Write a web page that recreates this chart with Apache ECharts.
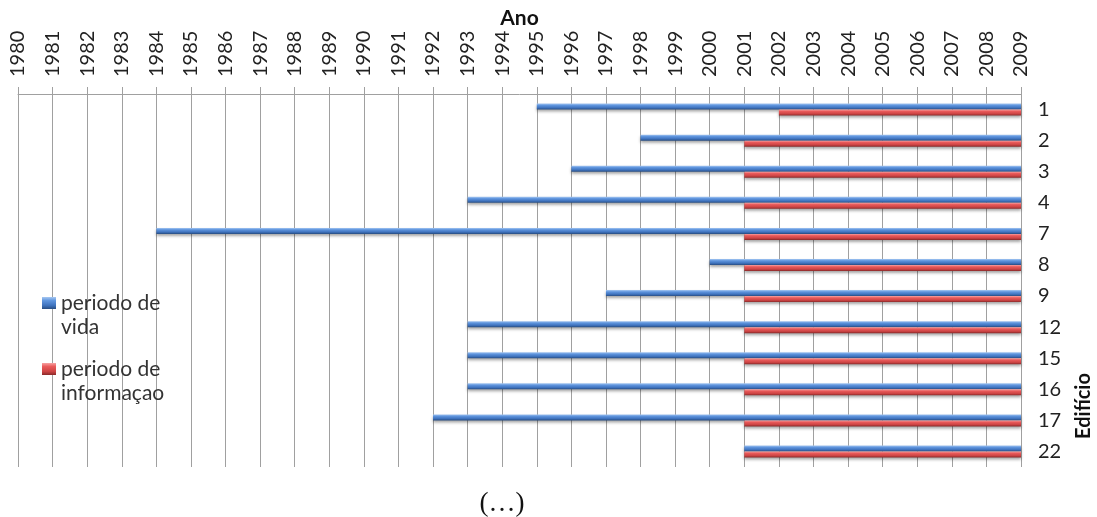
<!DOCTYPE html>
<html>
<head>
<meta charset="utf-8">
<script src="https://cdn.jsdelivr.net/npm/echarts@6/dist/echarts.min.js"></script>
<style>
html,body{margin:0;padding:0;background:#fff;}
#chart{width:1097px;height:517px;}
</style>
</head>
<body>
<div id="chart"></div>
<script>
// Data
var buildings = ['1', '2', '3', '4', '7', '8', '9', '12', '15', '16', '17', '22'];
var vidaStart = [1995, 1998, 1996, 1993, 1984, 2000, 1997, 1993, 1993, 1993, 1992, 2001];
var vidaEnd   = [2009, 2009, 2009, 2009, 2009, 2009, 2009, 2009, 2009, 2009, 2009, 2009];
var infoStart = [2002, 2001, 2001, 2001, 2001, 2001, 2001, 2001, 2001, 2001, 2001, 2001];
var infoEnd   = [2009, 2009, 2009, 2009, 2009, 2009, 2009, 2009, 2009, 2009, 2009, 2009];
var yearMin = 1980, yearMax = 2009;
var seriesNames = ['periodo de vida', 'periodo de informaçao'];

var vidaLen = vidaEnd.map(function (e, i) { return e - vidaStart[i]; });
var infoLen = infoEnd.map(function (e, i) { return e - infoStart[i]; });

var blueGrad = {type: 'linear', x: 0, y: 0, x2: 0, y2: 1, colorStops: [
  {offset: 0, color: '#A7C8F2'}, {offset: 0.3, color: '#5F95DE'},
  {offset: 0.7, color: '#3F73BE'}, {offset: 1, color: '#284D82'}]};
var redGrad = {type: 'linear', x: 0, y: 0, x2: 0, y2: 1, colorStops: [
  {offset: 0, color: '#F7A3A3'}, {offset: 0.3, color: '#E95A5A'},
  {offset: 0.7, color: '#CD4444'}, {offset: 1, color: '#8A2A2A'}]};

var chart = echarts.init(document.getElementById('chart'), null, {renderer: 'canvas'});
var labelFont = 'Lato';
function legendCfg(name, top) {
  return {
    data: [name],
    orient: 'vertical',
    left: 42,
    top: top,
    padding: 0,
    itemWidth: 14,
    itemHeight: 12,
    icon: 'rect',
    formatter: function (n) { return '\n' + n.replace('de ', 'de\n'); },
    textStyle: {fontFamily: labelFont, fontSize: 21, color: '#333', lineHeight: 24}
  };
}
var option = {
  backgroundColor: '#ffffff',
  animation: false,
  grid: {left: 18, right: 76, top: 94, bottom: 50, containLabel: false, outerBoundsMode: 'none'},
  legend: [legendCfg(seriesNames[0], 267), legendCfg(seriesNames[1], 333)],
  xAxis: {
    type: 'value',
    position: 'top',
    min: yearMin,
    max: yearMax,
    interval: 1,
    name: 'Ano',
    nameLocation: 'middle',
    nameGap: 65,
    nameMoveOverlap: false,
    nameTextStyle: {fontFamily: labelFont, fontSize: 21, fontWeight: 'bold', color: '#111'},
    axisLine: {show: true, lineStyle: {color: '#A0A0A0', width: 1}},
    axisTick: {show: true, inside: false, length: 7, lineStyle: {color: '#A0A0A0'}},
    axisLabel: {rotate: -90, margin: 17, fontFamily: labelFont, fontSize: 20, color: '#222',
      formatter: function (v) { return String(v); }},
    splitLine: {show: true, lineStyle: {color: '#A0A0A0', width: 1}}
  },
  yAxis: {
    type: 'category',
    data: buildings,
    inverse: true,
    position: 'right',
    axisLine: {show: false},
    axisTick: {show: false},
    axisLabel: {margin: 17, fontFamily: labelFont, fontSize: 20, color: '#222'},
    splitLine: {show: false}
  },
  graphic: [
    {type: 'text', x: 1084, y: 406, rotation: Math.PI / 2,
     style: {text: 'Edifício', align: 'center', verticalAlign: 'middle',
       fontFamily: labelFont, fontSize: 20, fontWeight: 'bold', fill: '#111'}},
    {type: 'text', x: 502, y: 504,
     style: {text: '(…)', align: 'center', verticalAlign: 'middle',
       fontFamily: 'Liberation Serif', fontSize: 27, fill: '#111'}}
  ],
  series: [
    {name: 'baseVida', type: 'bar', stack: 'vida', data: vidaStart, barWidth: 6, barGap: '0%',
     itemStyle: {color: 'rgba(0,0,0,0)'}, silent: true, tooltip: {show: false}},
    {name: seriesNames[0], type: 'bar', stack: 'vida', data: vidaLen, barWidth: 6, barGap: '0%',
     itemStyle: {color: blueGrad, shadowColor: 'rgba(0,0,0,0.35)', shadowBlur: 3, shadowOffsetY: 2}},
    {name: 'baseInfo', type: 'bar', stack: 'info', data: infoStart, barWidth: 6, barGap: '0%',
     itemStyle: {color: 'rgba(0,0,0,0)'}, silent: true, tooltip: {show: false}},
    {name: seriesNames[1], type: 'bar', stack: 'info', data: infoLen, barWidth: 6, barGap: '0%',
     itemStyle: {color: redGrad, shadowColor: 'rgba(0,0,0,0.35)', shadowBlur: 3, shadowOffsetY: 2}}
  ]
};
chart.setOption(option);
</script>
</body>
</html>
